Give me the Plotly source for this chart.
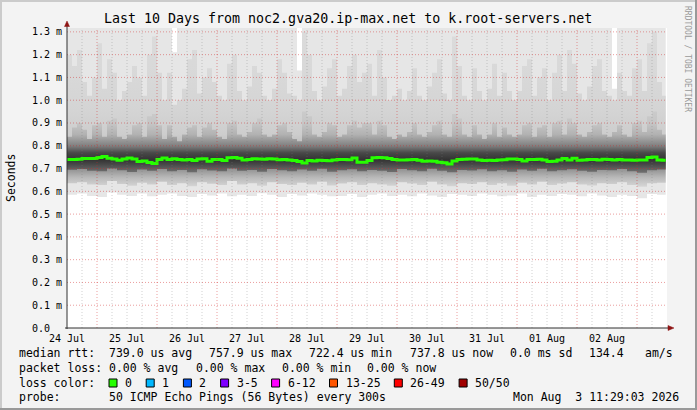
import plotly.graph_objects as go
import pandas as pd

# ---------------- data (milliseconds) ----------------
title = "Last 10 Days from noc2.gva20.ip-max.net to k.root-servers.net"
t_start = pd.Timestamp("2026-07-24 12:00")
t_data_end = pd.Timestamp("2026-08-03 11:29:03")
t_axis_end = pd.Timestamp("2026-08-03 12:00")

# 120 bins (2 h) : median rtt
median_ms = [
    0.740, 0.740, 0.741, 0.744, 0.744, 0.744, 0.749, 0.753, 0.745, 0.742,
    0.736, 0.742, 0.746, 0.742, 0.731, 0.733, 0.727, 0.722, 0.740, 0.746,
    0.740, 0.743, 0.740, 0.738, 0.740, 0.735, 0.742, 0.743, 0.732, 0.740,
    0.740, 0.735, 0.747, 0.748, 0.745, 0.737, 0.740, 0.743, 0.742, 0.741,
    0.743, 0.742, 0.739, 0.740, 0.738, 0.735, 0.731, 0.724, 0.735, 0.733,
    0.736, 0.735, 0.734, 0.737, 0.740, 0.740, 0.739, 0.746, 0.728, 0.728,
    0.735, 0.747, 0.748, 0.747, 0.744, 0.740, 0.738, 0.737, 0.739, 0.740,
    0.736, 0.732, 0.733, 0.732, 0.728, 0.725, 0.720, 0.733, 0.740, 0.741,
    0.742, 0.742, 0.738, 0.735, 0.736, 0.735, 0.738, 0.739, 0.742, 0.742,
    0.740, 0.733, 0.740, 0.740, 0.741, 0.738, 0.731, 0.732, 0.738, 0.744,
    0.738, 0.745, 0.736, 0.737, 0.740, 0.740, 0.738, 0.741, 0.740, 0.737,
    0.740, 0.737, 0.738, 0.736, 0.737, 0.737, 0.748, 0.751, 0.738, 0.736,
]
# 120 bins : 75th percentile of pings
p75_ms = [
    0.84, 0.88, 0.90, 0.87, 0.83, 0.89, 0.90, 0.84, 0.91, 0.92,
    0.84, 0.83, 0.85, 0.89, 0.90, 0.84, 0.93, 0.94, 0.89, 0.83,
    0.89, 0.84, 0.82, 0.85, 0.88, 0.89, 0.84, 0.88, 0.90, 0.87,
    0.84, 0.83, 0.90, 0.91, 0.85, 0.84, 0.86, 0.90, 0.92, 0.85,
    0.84, 0.85, 0.89, 0.90, 0.86, 0.83, 0.82, 0.95, 0.93, 0.85,
    0.84, 0.86, 0.90, 0.89, 0.84, 0.85, 0.89, 0.91, 0.88, 0.90,
    0.90, 0.85, 0.91, 0.89, 0.84, 0.83, 0.85, 0.84, 0.86, 0.90,
    0.85, 0.84, 0.86, 0.89, 0.91, 0.85, 0.84, 0.94, 0.92, 0.85,
    0.84, 0.89, 0.85, 0.83, 0.85, 0.90, 0.84, 0.88, 0.85, 0.84,
    0.85, 0.89, 0.90, 0.84, 0.88, 0.89, 0.84, 0.90, 0.91, 0.85,
    0.92, 0.90, 0.85, 0.84, 0.86, 0.89, 0.90, 0.85, 0.84, 0.86,
    0.89, 0.85, 0.84, 0.90, 0.91, 0.86, 0.93, 0.95, 0.87, 0.85,
]
# 120 bins : 90th percentile of pings
p90_ms = [
    1.20, 1.15, 1.22, 1.08, 1.02, 1.10, 1.25, 1.05, 1.18, 1.12,
    1.00, 1.04, 1.08, 1.15, 1.10, 1.02, 1.20, 1.28, 1.12, 1.00,
    1.12, 0.98, 1.00, 1.05, 1.18, 1.22, 1.03, 1.10, 1.14, 1.08,
    1.02, 1.00, 1.16, 1.20, 1.04, 1.00, 1.06, 1.15, 1.12, 1.02,
    1.00, 1.05, 1.18, 1.12, 1.03, 1.02, 1.00, 1.30, 1.20, 1.04,
    1.00, 1.06, 1.14, 1.18, 1.02, 1.05, 1.15, 1.20, 1.08, 1.12,
    1.16, 1.02, 1.22, 1.10, 1.00, 1.02, 1.05, 1.00, 1.04, 1.14,
    1.02, 1.00, 1.06, 1.12, 1.18, 1.03, 1.00, 1.28, 1.15, 1.02,
    1.00, 1.14, 1.04, 1.00, 1.05, 1.16, 1.02, 1.12, 1.04, 1.00,
    1.04, 1.15, 1.18, 1.02, 1.10, 1.14, 1.00, 1.12, 1.20, 1.04,
    1.22, 1.16, 1.03, 1.00, 1.06, 1.15, 1.18, 1.04, 1.02, 1.00,
    1.12, 1.04, 1.02, 1.14, 1.18, 1.04, 1.25, 1.30, 1.08, 1.02,
]
# 120 bins : slowest ping
max_ms = [
    1.40, 1.40, 1.40, 1.40, 1.40, 1.40, 1.40, 1.40, 1.40, 1.40,
    1.40, 1.40, 1.40, 1.40, 1.40, 1.40, 1.40, 1.40, 1.40, 1.40,
    1.40, 1.21, 1.40, 1.40, 1.40, 1.40, 1.40, 1.40, 1.40, 1.40,
    1.40, 1.40, 1.40, 1.40, 1.40, 1.40, 1.40, 1.40, 1.40, 1.40,
    1.40, 1.40, 1.40, 1.40, 1.40, 1.40, 1.13, 1.40, 1.40, 1.40,
    1.40, 1.40, 1.40, 1.40, 1.40, 1.40, 1.40, 1.40, 1.40, 1.40,
    1.40, 1.40, 1.40, 1.40, 1.40, 1.40, 1.40, 1.40, 1.40, 1.40,
    1.40, 1.40, 1.40, 1.40, 1.40, 1.40, 1.40, 1.40, 1.40, 1.40,
    1.40, 1.40, 1.40, 1.40, 1.40, 1.40, 1.40, 1.40, 1.40, 1.40,
    1.40, 1.40, 1.40, 1.40, 1.40, 1.40, 1.40, 1.40, 1.40, 1.40,
    1.40, 1.40, 1.40, 1.40, 1.40, 1.40, 1.40, 1.40, 1.40, 1.05,
    1.40, 1.40, 1.40, 1.40, 1.40, 1.40, 1.40, 1.40, 1.40, 1.40,
]
# 60 bins (4 h) : fastest ping
min_ms = [
    0.585, 0.590, 0.580, 0.575, 0.595, 0.585, 0.580, 0.590, 0.578, 0.585,
    0.590, 0.580, 0.575, 0.588, 0.582, 0.590, 0.578, 0.585, 0.580, 0.592,
    0.585, 0.575, 0.588, 0.582, 0.590, 0.585, 0.578, 0.580, 0.588, 0.575,
    0.585, 0.590, 0.580, 0.585, 0.578, 0.590, 0.582, 0.575, 0.588, 0.585,
    0.580, 0.590, 0.585, 0.578, 0.582, 0.590, 0.575, 0.585, 0.580, 0.588,
    0.585, 0.578, 0.590, 0.582, 0.575, 0.585, 0.580, 0.570, 0.588, 0.585,
]
# 60 bins : 10th percentile
p10_ms = [
    0.635, 0.640, 0.630, 0.628, 0.645, 0.632, 0.625, 0.638, 0.630, 0.642,
    0.628, 0.635, 0.622, 0.640, 0.633, 0.628, 0.645, 0.630, 0.636, 0.625,
    0.640, 0.632, 0.628, 0.638, 0.630, 0.642, 0.626, 0.634, 0.640, 0.628,
    0.636, 0.630, 0.625, 0.640, 0.634, 0.628, 0.642, 0.630, 0.622, 0.636,
    0.632, 0.640, 0.628, 0.635, 0.625, 0.638, 0.630, 0.642, 0.628, 0.634,
    0.640, 0.630, 0.626, 0.636, 0.632, 0.640, 0.628, 0.620, 0.635, 0.638,
]
# 60 bins : 25th percentile
p25_ms = [
    0.695, 0.698, 0.690, 0.688, 0.700, 0.692, 0.685, 0.696, 0.690, 0.698,
    0.688, 0.694, 0.684, 0.697, 0.691, 0.688, 0.700, 0.690, 0.694, 0.686,
    0.698, 0.692, 0.688, 0.696, 0.690, 0.699, 0.686, 0.693, 0.697, 0.688,
    0.694, 0.690, 0.685, 0.698, 0.692, 0.688, 0.699, 0.690, 0.684, 0.694,
    0.691, 0.697, 0.688, 0.693, 0.686, 0.696, 0.690, 0.699, 0.688, 0.693,
    0.697, 0.690, 0.686, 0.694, 0.692, 0.698, 0.688, 0.682, 0.693, 0.696,
]

day_labels = ["24 Jul", "25 Jul", "26 Jul", "27 Jul", "28 Jul", "29 Jul",
              "30 Jul", "31 Jul", "01 Aug", "02 Aug"]
y_tick_values = [0.0, 0.1, 0.2, 0.3, 0.4, 0.5, 0.6, 0.7, 0.8, 0.9, 1.0, 1.1, 1.2, 1.3]
y_tick_labels = ["0.0", "0.1 m", "0.2 m", "0.3 m", "0.4 m", "0.5 m", "0.6 m",
                 "0.7 m", "0.8 m", "0.9 m", "1.0 m", "1.1 m", "1.2 m", "1.3 m"]

row_labels = ["median rtt:", "packet loss:", "loss color:", "probe:"]
median_stats = ["739.0 us avg", "757.9 us max", "722.4 us min", "737.8 us now",
                "0.0 ms sd", "134.4", "am/s"]
loss_stats = ["0.00 % avg", "0.00 % max", "0.00 % min", "0.00 % now"]
loss_labels = ["0", "1", "2", "3-5", "6-12", "13-25", "26-49", "50/50"]
loss_colors = ["#26ff00", "#00b8ff", "#0059ff", "#7e00ff", "#ff00ff",
               "#ff5500", "#ff0000", "#a10000"]
probe_text = "50 ICMP Echo Pings (56 Bytes) every 300s"
stamp_text = "Mon Aug \u00a03 11:29:03 2026"
credit_text = "RRDTOOL / TOBI OETIKER"

# ---------------- layout geometry (pixels) ----------------
W, H = 697, 410
PL, PR, PT, PB = 67, 667, 28, 328
PW, PH = PR - PL, PB - PT
MONO = "DejaVu Sans Mono"


def px(x):
    return (x - PL) / PW


def py(y):
    return (PB - y) / PH


def edges(n):
    step = (t_axis_end - t_start) / n
    t = [t_start + step * i for i in range(n)]
    return t + [t_data_end]


def ext(v):
    return list(v) + [v[-1]]


t120 = edges(len(median_ms))
t60 = edges(len(min_ms))

fig = go.Figure()


def band(t_lo, lo, t_hi, hi, fillcolor=None, gradient=None):
    fig.add_trace(go.Scatter(x=t_lo, y=ext(lo), mode="lines",
                             line=dict(width=0, shape="hv"),
                             hoverinfo="skip", showlegend=False))
    kw = dict(x=t_hi, y=ext(hi), mode="lines", fill="tonexty",
              line=dict(width=0, shape="hv"), hoverinfo="skip", showlegend=False)
    if gradient is not None:
        kw["fillgradient"] = gradient
    else:
        kw["fillcolor"] = fillcolor
    fig.add_trace(go.Scatter(**kw))


band(t60, min_ms, t120, max_ms, fillcolor="#e6e6e6")
band(t60, p10_ms, t120, p90_ms, gradient=dict(
    type="vertical", start=0.55, stop=1.35,
    colorscale=[[0.0, "#e2e2e2"], [0.0875, "#d6d6d6"], [0.1375, "#bababa"],
                [0.175, "#9a9a9a"], [0.2375, "#707070"], [0.3125, "#bcbcbc"],
                [0.375, "#cdcdcd"], [0.5, "#d4d4d4"], [0.6875, "#d8d8d8"],
                [1.0, "#dcdcdc"]]))
band(t60, p25_ms, t120, p75_ms, gradient=dict(
    type="vertical", start=0.65, stop=1.0,
    colorscale=[[0.0, "#7e7e7e"], [0.114, "#6a6a6a"], [0.2, "#464646"],
                [0.257, "#333333"], [0.343, "#4a4a4a"], [0.429, "#808080"],
                [0.571, "#b2b2b2"], [0.714, "#c6c6c6"], [1.0, "#d0d0d0"]]))

fig.add_trace(go.Scatter(x=t120, y=ext(median_ms), mode="lines",
                         line=dict(color=loss_colors[0], width=3, shape="hv"),
                         hoverinfo="skip", showlegend=False))

# ---------------- grid drawn on top (as rrdtool does) ----------------
shapes = []
for t in pd.date_range(t_start + pd.Timedelta(hours=6), t_axis_end - pd.Timedelta(hours=1), freq="6h"):
    major = t.hour == 0
    shapes.append(dict(type="line", xref="x", yref="paper", x0=t, x1=t, y0=0, y1=1,
                       line=dict(color="rgba(210,40,40,0.45)" if major else "rgba(120,120,120,0.35)",
                                 width=1, dash="1px,2px"), layer="above"))
for v in y_tick_values[1:]:
    shapes.append(dict(type="line", xref="paper", yref="y", x0=0, x1=1, y0=v, y1=v,
                       line=dict(color="rgba(210,40,40,0.45)", width=1, dash="1px,2px"),
                       layer="above"))

# axes with arrows
AX = "#303030"
ARROW = "#8e1414"
shapes.append(dict(type="line", xref="paper", yref="paper", x0=px(PL), x1=px(PL),
                   y0=py(PB + 1), y1=py(26), line=dict(color=AX, width=1)))
shapes.append(dict(type="line", xref="paper", yref="paper", x0=px(PL - 2), x1=px(668),
                   y0=py(PB), y1=py(PB), line=dict(color=AX, width=1)))
shapes.append(dict(type="path", xref="paper", yref="paper",
                   path=f"M {px(64.5)} {py(26.5)} L {px(69.5)} {py(26.5)} L {px(67)} {py(21)} Z",
                   fillcolor=ARROW, line=dict(color=ARROW, width=0.5)))
shapes.append(dict(type="path", xref="paper", yref="paper",
                   path=f"M {px(668)} {py(325.5)} L {px(668)} {py(330.5)} L {px(674)} {py(328)} Z",
                   fillcolor=ARROW, line=dict(color=ARROW, width=0.5)))

# image border (shade)
shapes.append(dict(type="rect", xref="paper", yref="paper", x0=px(0), x1=px(W), y0=py(2), y1=py(0),
                   fillcolor="#cbcbcb", line=dict(width=0)))
shapes.append(dict(type="rect", xref="paper", yref="paper", x0=px(0), x1=px(2), y0=py(H), y1=py(0),
                   fillcolor="#cbcbcb", line=dict(width=0)))
shapes.append(dict(type="rect", xref="paper", yref="paper", x0=px(0), x1=px(W), y0=py(H), y1=py(H - 2),
                   fillcolor="#999999", line=dict(width=0)))
shapes.append(dict(type="rect", xref="paper", yref="paper", x0=px(W - 2), x1=px(W), y0=py(H), y1=py(0),
                   fillcolor="#999999", line=dict(width=0)))

# ---------------- texts ----------------
annotations = []


def text(s, x, y, size=11.5, anchor="left", angle=0, color="#000000"):
    annotations.append(dict(text=s, xref="paper", yref="paper", x=px(x), y=py(y),
                            xanchor=anchor, yanchor="middle", showarrow=False,
                            textangle=angle, font=dict(family=MONO, size=size, color=color)))


text(title, 347.5, 19, size=13.3, anchor="center")
text("Seconds", 11, 178, size=11.5, anchor="center", angle=-90)
text(credit_text, 688, 59, size=8, anchor="center", angle=90, color="#9a9a9a")

# y tick labels (left aligned column, like rrdtool)
for v, lbl in zip(y_tick_values, y_tick_labels):
    annotations.append(dict(text=lbl, xref="paper", yref="y", x=px(30), y=v,
                            xanchor="left", yanchor="middle", showarrow=False,
                            font=dict(family=MONO, size=10, color="#000000")))

ROWS = [353, 368, 382.5, 397]
for lbl, yy in zip(row_labels, ROWS):
    text(lbl, 17, yy)
for s, x in zip(median_stats, [107, 207, 307, 408, 508, 587, 643]):
    text(s, x, ROWS[0])
for s, x in zip(loss_stats, [107, 194, 280, 365]):
    text(s, x, ROWS[1])
text(probe_text, 107, ROWS[3])
text(stamp_text, 681, ROWS[3], anchor="right")

CELL = 6.9
xx = 109.0
for lbl, col in zip(loss_labels, loss_colors):
    shapes.append(dict(type="rect", xref="paper", yref="paper",
                       x0=px(xx), x1=px(xx + 8), y0=py(387), y1=py(379),
                       fillcolor=col, line=dict(color="#000000", width=1)))
    text(lbl, xx + 14, ROWS[2])
    xx = xx + 14 + len(lbl) * CELL + 16.3

day_ticks = [t_start + pd.Timedelta(days=i) for i in range(len(day_labels))]

fig.update_layout(
    width=W, height=H, autosize=False,
    margin=dict(l=PL, r=W - PR, t=PT, b=H - PB, pad=0),
    paper_bgcolor="#f3f3f3", plot_bgcolor="#ffffff",
    showlegend=False,
    shapes=shapes, annotations=annotations,
    xaxis=dict(type="date", range=[t_start, t_axis_end], showgrid=False, zeroline=False,
               showline=False, ticks="", tickvals=day_ticks, ticktext=day_labels,
               ticklabelstandoff=3,
               tickfont=dict(family=MONO, size=10, color="#000000"), fixedrange=True),
    yaxis=dict(range=[0, 1.317], showgrid=False, zeroline=False, showline=False, ticks="",
               tickvals=y_tick_values, showticklabels=False, fixedrange=True),
)

fig.write_html("out.html", config=dict(displayModeBar=False, staticPlot=True),
               post_script="document.body.style.margin='0';document.body.style.overflow='hidden';")
